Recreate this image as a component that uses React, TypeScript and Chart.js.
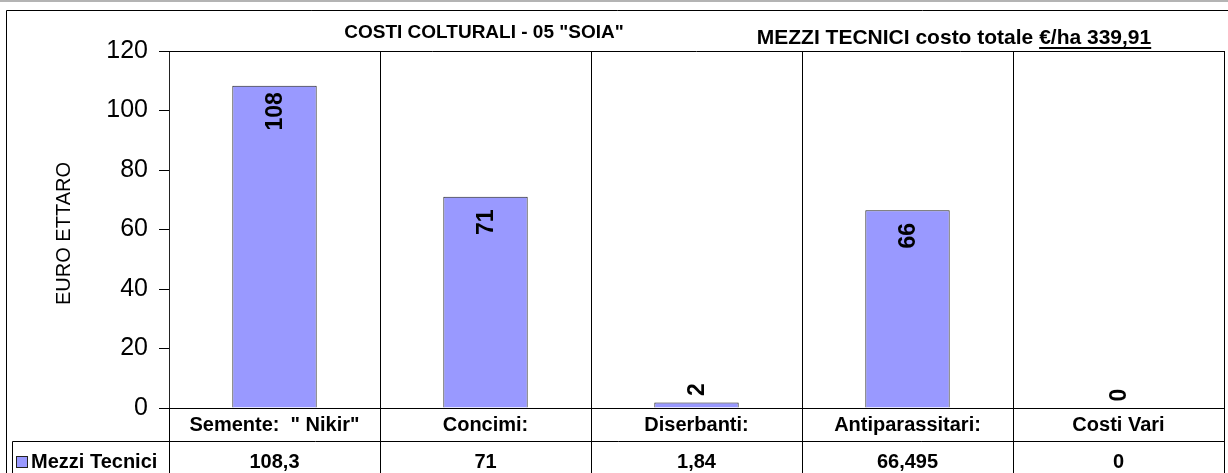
import React, { useEffect, useRef } from "react";
import { Chart, registerables } from "chart.js";

Chart.register(...registerables);

const categories = ['Semente:  " Nikir"', "Concimi:", "Diserbanti:", "Antiparassitari:", "Costi Vari"];
const values = [108.3, 71, 1.84, 66.495, 0];
const valueLabels = ["108,3", "71", "1,84", "66,495", "0"];
const seriesName = "Mezzi Tecnici";
const yMin = 0;
const yMax = 120;
const yStep = 20;
const yTitle = "EURO ETTARO";
const title1 = 'COSTI COLTURALI - 05 "SOIA"';
const title2a = "MEZZI TECNICI costo totale ";
const title2b = "€/ha 339,91";

const FONT = "'Liberation Sans', Arial, sans-serif";
const BAR_FILL = "#9999FF";

const decorPlugin = {
  id: "decor",
  afterDatasetsDraw(chart: any) {
    const ctx = chart.ctx;
    const meta = chart.getDatasetMeta(0);
    ctx.save();
    ctx.fillStyle = "#000";
    ctx.font = `bold 23px ${FONT}`;
    ctx.textAlign = "center";
    ctx.textBaseline = "middle";
    meta.data.forEach((el: any, i: number) => {
      const v = values[i];
      const top = Math.min(el.y, el.base);
      const h = Math.abs(el.base - el.y);
      const cy = h > 50 ? top + 25.5 : top - 13;
      ctx.save();
      ctx.translate(el.x, cy);
      ctx.rotate(-Math.PI / 2);
      ctx.fillText(String(Math.round(v)), 0, 1);
      ctx.restore();
    });
    ctx.restore();
  },
  afterDraw(chart: any) {
    const ctx = chart.ctx;
    const area = chart.chartArea;
    const xs = chart.scales.x;
    const W = chart.width;
    const H = chart.height;
    const n = categories.length;
    const cw = (xs.right - xs.left) / n;
    const rowLine = 441.5;
    ctx.save();
    // top gray line
    ctx.fillStyle = "#b4b4b4";
    ctx.fillRect(0, 0, W, 2);
    ctx.strokeStyle = "#000";
    ctx.lineWidth = 1;
    ctx.beginPath();
    // outer border
    ctx.moveTo(6.5, H);
    ctx.lineTo(6.5, 10.5);
    ctx.lineTo(W, 10.5);
    // plot top border
    ctx.moveTo(area.left, area.top + 0.5);
    ctx.lineTo(area.right, area.top + 0.5);
    // table verticals
    for (let i = 0; i <= n; i++) {
      const x = Math.round(xs.left + i * cw) + 0.5;
      ctx.moveTo(x, area.bottom);
      ctx.lineTo(x, H);
    }
    // row separator
    ctx.moveTo(12.5, rowLine);
    ctx.lineTo(area.right, rowLine);
    ctx.moveTo(12.5, rowLine);
    ctx.lineTo(12.5, H);
    ctx.stroke();

    // table texts
    ctx.fillStyle = "#000";
    ctx.font = `bold 20px ${FONT}`;
    ctx.textAlign = "center";
    ctx.textBaseline = "middle";
    for (let i = 0; i < n; i++) {
      const cx = xs.getPixelForValue(i);
      ctx.fillText(categories[i], cx, 425.5);
      ctx.fillText(valueLabels[i], cx, 462);
    }
    // legend key
    ctx.fillStyle = BAR_FILL;
    ctx.fillRect(16.5, 456.5, 11, 11);
    ctx.strokeStyle = "#222";
    ctx.strokeRect(16.5, 456.5, 11, 11);
    ctx.fillStyle = "#000";
    ctx.textAlign = "left";
    ctx.fillText(seriesName, 31, 462);

    // titles
    ctx.textBaseline = "alphabetic";
    ctx.textAlign = "center";
    ctx.font = `bold 19px ${FONT}`;
    ctx.fillText(title1, 484, 37.5);
    ctx.font = `bold 21px ${FONT}`;
    const wa = ctx.measureText(title2a).width;
    const wb = ctx.measureText(title2b).width;
    const startX = 954 - (wa + wb) / 2;
    ctx.textAlign = "left";
    ctx.fillText(title2a, startX, 44);
    ctx.fillText(title2b, startX + wa, 44);
    ctx.fillRect(startX + wa, 47, wb, 2);

    // y axis title
    ctx.save();
    ctx.font = `20px ${FONT}`;
    ctx.textAlign = "center";
    ctx.textBaseline = "middle";
    ctx.translate(64, 233.5);
    ctx.rotate(-Math.PI / 2);
    ctx.fillText(yTitle, 0, 0);
    ctx.restore();
    ctx.restore();
  },
};

export default function App() {
  const ref = useRef<HTMLCanvasElement | null>(null);
  useEffect(() => {
    if (!ref.current) return;
    const chart = new Chart(ref.current, {
      type: "bar",
      data: {
        labels: categories,
        datasets: [
          {
            label: seriesName,
            data: values,
            backgroundColor: BAR_FILL,
            borderColor: "#222",
            borderWidth: 1,
            barPercentage: 0.4,
            categoryPercentage: 1,
          },
        ],
      },
      options: {
        animation: false,
        responsive: false,
        maintainAspectRatio: false,
        devicePixelRatio: 1,
        layout: { padding: { top: 51, right: 4, bottom: 65, left: 0 } },
        plugins: {
          legend: { display: false },
          title: { display: false },
          tooltip: { enabled: false },
        },
        scales: {
          x: {
            type: "category",
            offset: true,
            ticks: { display: false },
            grid: { display: true, offset: true, color: "#000", lineWidth: 1, drawTicks: false },
            border: { display: true, color: "#000" },
            afterFit(scale: any) {
              scale.height = 0;
            },
          },
          y: {
            min: yMin,
            max: yMax,
            ticks: {
              stepSize: yStep,
              color: "#000",
              padding: 11,
              font: { family: FONT, size: 25 },
            },
            grid: { drawOnChartArea: false, drawTicks: true, tickLength: 10, color: "#000" },
            border: { display: true, color: "#222" },
            afterFit(scale: any) {
              scale.width = 169;
            },
          },
        },
      },
      plugins: [decorPlugin],
    });
    return () => chart.destroy();
  }, []);
  return (
    <div style={{ position: "fixed", left: 0, top: 0, width: 1228, height: 473, background: "#fff" }}>
      <canvas ref={ref} width={1228} height={473} style={{ display: "block" }} />
    </div>
  );
}
